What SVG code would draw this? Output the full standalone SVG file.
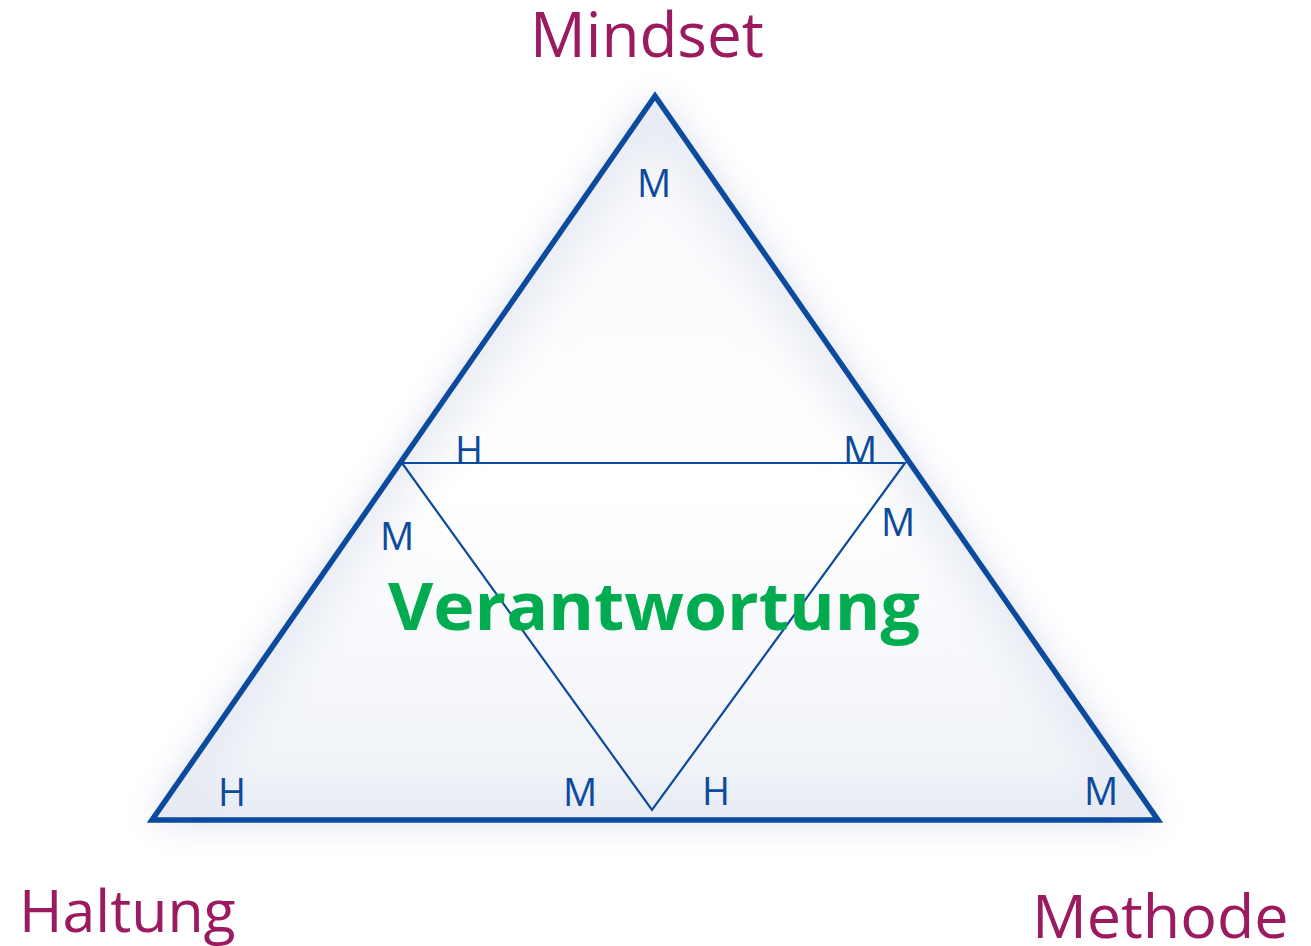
<svg xmlns="http://www.w3.org/2000/svg" width="1311" height="946" viewBox="0 0 1311 946">
<defs>
<filter id="glow" x="-20%" y="-20%" width="140%" height="140%">
<feGaussianBlur stdDeviation="18"/>
</filter>
<filter id="soft" x="-20%" y="-20%" width="140%" height="140%">
<feGaussianBlur stdDeviation="22"/>
</filter>
<clipPath id="tri">
<polygon points="655,96 152,820 1158,820"/>
</clipPath>
<linearGradient id="fill" x1="0" y1="0" x2="0" y2="1">
<stop offset="0" stop-color="#f7f8fb"/>
<stop offset="0.55" stop-color="#ffffff"/>
<stop offset="1" stop-color="#eef1f7"/>
</linearGradient>
<style>
.title{font-family:"Open Sans","Noto Sans",sans-serif;fill:#9c1a5f;}
.lbl{font-family:"Open Sans","Noto Sans",sans-serif;font-size:38px;fill:#0b4a9c;text-anchor:middle;}
.main{font-family:"Open Sans","Noto Sans",sans-serif;font-weight:bold;font-size:67px;fill:#00ac4f;}
.outer{fill:none;stroke:#0b4a9c;stroke-width:5.5;stroke-linejoin:miter;}
.inner{fill:none;stroke:#0b4a9c;stroke-width:2.2;}
</style>
</defs>
<rect width="1311" height="946" fill="#ffffff"/>
<g id="shadow">
<polygon points="655,96 152,820 1158,820" fill="#c9d1e5" filter="url(#glow)" opacity="0.8"/>
</g>
<g id="outer-triangle">
<polygon points="655,96 152,820 1158,820" fill="url(#fill)"/>
<g clip-path="url(#tri)">
<polygon points="655,96 152,820 1158,820" fill="none" stroke="#e4e8f1" stroke-width="40" filter="url(#soft)"/>
</g>
<polygon class="outer" points="655,96 152,820 1158,820"/>
</g>
<g id="connectors">
<polygon class="inner" points="402,463 905,463 652,810"/>
</g>
<g id="title-mindset"><text class="title" x="530" y="57" font-size="62">Mindset</text></g>
<g id="title-haltung"><text class="title" x="19" y="932" font-size="59">Haltung</text></g>
<g id="title-methode"><text class="title" x="1032" y="938" font-size="61">Methode</text></g>
<g id="center-label"><text class="main" x="388" y="630" textLength="532" lengthAdjust="spacingAndGlyphs">Verantwortung</text></g>
<g id="labels">
<text class="lbl" x="654" y="197">M</text>
<text class="lbl" x="469" y="464">H</text>
<text class="lbl" x="860" y="464">M</text>
<text class="lbl" x="397" y="550">M</text>
<text class="lbl" x="898" y="536">M</text>
<text class="lbl" x="232" y="806">H</text>
<text class="lbl" x="580" y="806">M</text>
<text class="lbl" x="716" y="805">H</text>
<text class="lbl" x="1101" y="805">M</text>
</g>
</svg>
